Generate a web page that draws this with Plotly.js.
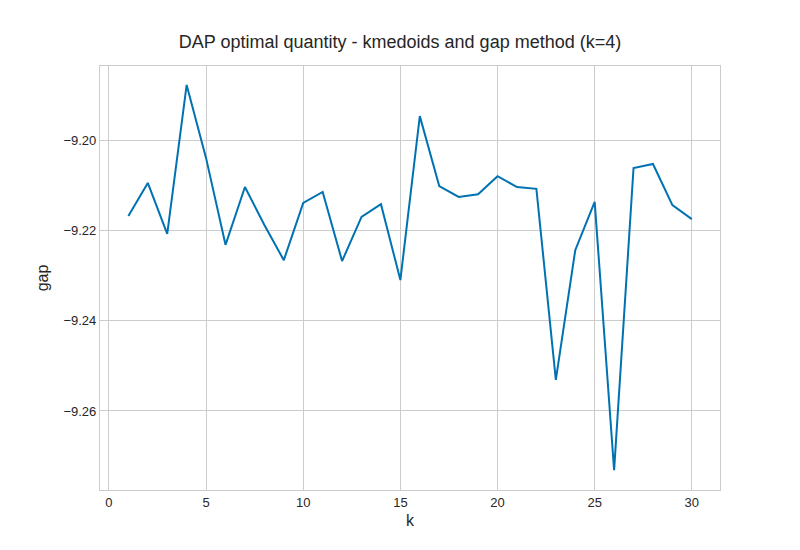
<!DOCTYPE html>
<html><head><script src="https://cdn.plot.ly/plotly-3.0.1.min.js"></script></head>
<body style="margin:0">
<div id="c" style="width:800px;height:550px"></div>
<script>
const ks = [1,2,3,4,5,6,7,8,9,10,11,12,13,14,15,16,17,18,19,20,21,22,23,24,25,26,27,28,29,30];
const gap = [-9.2168,-9.2095,-9.2208,-9.1878,-9.2040,-9.2232,-9.2104,-9.2188,-9.2266,-9.2139,-9.2115,-9.2268,-9.2170,-9.2142,-9.2310,-9.1947,-9.2102,-9.2126,-9.2120,-9.2080,-9.2104,-9.2108,-9.2531,-9.2244,-9.2137,-9.2731,-9.2062,-9.2053,-9.2144,-9.2175];
const ax = {showgrid:true, gridcolor:'#cccccc', gridwidth:1, zeroline:false, showline:true, mirror:true, linecolor:'#cccccc', linewidth:1.2, ticks:'', tickfont:{size:13,color:'#262626'}};
Plotly.newPlot('c', [{x:ks, y:gap, mode:'lines', line:{color:'#0072B2', width:2}}], {
  width:800, height:550, paper_bgcolor:'white', plot_bgcolor:'white',
  font:{family:'Liberation Sans, Arial, sans-serif', color:'#262626'},
  margin:{l:100, r:80, t:66, b:60},
  title:{text:'DAP optimal quantity - kmedoids and gap method (k=4)', x:0.5, xanchor:'center', y:0.935, font:{size:18}},
  xaxis:Object.assign({}, ax, {range:[-0.46,31.45], tickvals:[0,5,10,15,20,25,30], title:{text:'k', font:{size:16}, standoff:6}}),
  yaxis:Object.assign({}, ax, {range:[-9.2775,-9.1836], tickvals:[-9.26,-9.24,-9.22,-9.20], ticktext:['−9.26','−9.24','−9.22','−9.20'], title:{text:'gap', font:{size:16}, standoff:10}}),
  showlegend:false
}, {displayModeBar:false});
</script></body></html>
